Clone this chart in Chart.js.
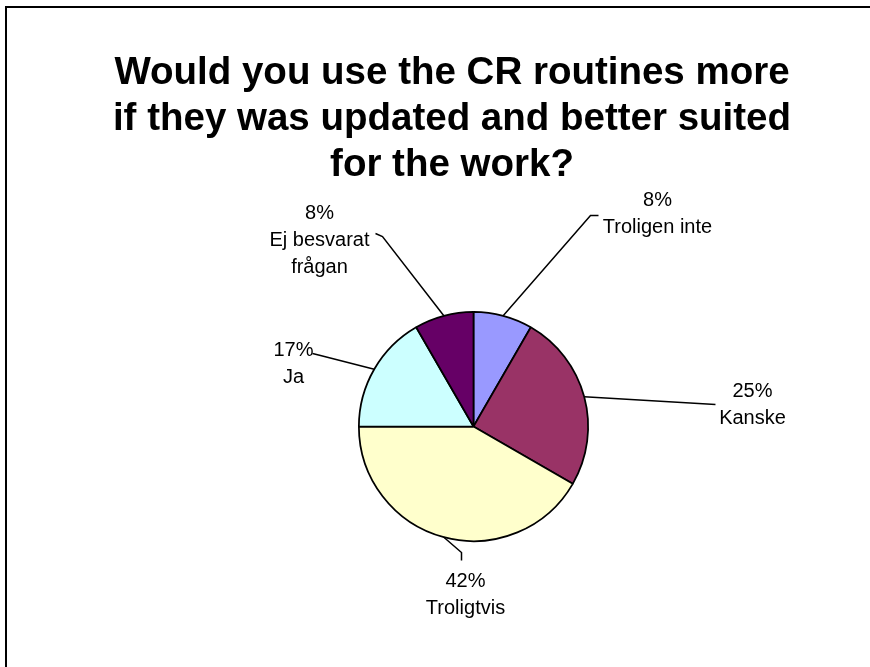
<!DOCTYPE html>
<html>
<head>
<meta charset="utf-8">
<script src="https://cdn.jsdelivr.net/npm/chart.js@4/dist/chart.umd.min.js"></script>
<style>
  body { margin: 0; background: #fff; }
  #frame {
    position: absolute; left: 5px; top: 6px; width: 900px; height: 700px;
    border-left: 2px solid #000; border-top: 2px solid #000;
  }
  #title {
    position: absolute; left: 52px; top: 48px; width: 800px;
    text-align: center; font: bold 38.5px "Liberation Sans", Arial, sans-serif;
    line-height: 46px; color: #000;
  }
  #chartBox { position: absolute; left: 0; top: 0; }
</style>
</head>
<body>
<div id="frame"></div>
<canvas id="chartBox" width="870" height="667"></canvas>
<div id="title">Would you use the CR routines more<br>if they was updated and better suited<br>for the work?</div>
<script>
// data
const categories = ['Troligen inte', 'Kanske', 'Troligtvis', 'Ja', 'Ej besvarat frågan'];
const labelLines = [['Troligen inte'], ['Kanske'], ['Troligtvis'], ['Ja'], ['Ej besvarat', 'frågan']];
const counts = [1, 3, 5, 2, 1];
const colors = ['#9999FF', '#993366', '#FFFFCC', '#CCFFFF', '#660066'];

// where each leader line bends / ends and where the text sits, relative to the pie centre
const leaders = [
  { bend: [117, -211], end: [125, -211], text: [184, -213] },
  { bend: [242, -22], end: [242, -22], text: [279, -22] },
  { bend: [-12, 126], end: [-12, 134], text: [-8, 168] },
  { bend: [-153, -71], end: [-161, -73], text: [-180, -63] },
  { bend: [-91, -190], end: [-98, -193], text: [-154, -186] }
];

const total = counts.reduce((a, b) => a + b, 0);

const labelPlugin = {
  id: 'leaderLabels',
  afterDatasetsDraw(chart) {
    const ctx = chart.ctx;
    const meta = chart.getDatasetMeta(0);
    ctx.save();
    meta.data.forEach(function (arc, i) {
      const mid = (arc.startAngle + arc.endAngle) / 2;
      const cx = arc.x, cy = arc.y;
      const r = arc.outerRadius;
      const l = leaders[i];

      ctx.strokeStyle = '#000';
      ctx.lineWidth = 1.5;
      ctx.beginPath();
      ctx.moveTo(cx + Math.cos(mid) * r, cy + Math.sin(mid) * r);
      ctx.lineTo(cx + l.bend[0], cy + l.bend[1]);
      ctx.lineTo(cx + l.end[0], cy + l.end[1]);
      ctx.stroke();

      const lines = [Math.round(counts[i] / total * 100) + '%'].concat(labelLines[i]);
      const lh = 27;
      let y = cy + l.text[1] - (lines.length - 1) * lh / 2;
      ctx.fillStyle = '#000';
      ctx.font = '20px "Liberation Sans", Arial, sans-serif';
      ctx.textAlign = 'center';
      ctx.textBaseline = 'middle';
      lines.forEach(function (t) {
        ctx.fillText(t, cx + l.text[0], y);
        y += lh;
      });
    });
    ctx.restore();
  }
};

const ctx = document.getElementById('chartBox').getContext('2d');
const myChart = new Chart(ctx, {
  type: 'pie',
  data: {
    labels: categories,
    datasets: [{
      data: counts,
      backgroundColor: colors,
      borderColor: '#000',
      borderWidth: 1.75
    }]
  },
  options: {
    responsive: false,
    animation: false,
    layout: { padding: { left: 358, right: 281, top: 311, bottom: 125 } },
    plugins: {
      legend: { display: false },
      tooltip: { enabled: false }
    }
  },
  plugins: [labelPlugin]
});
</script>
</body>
</html>
